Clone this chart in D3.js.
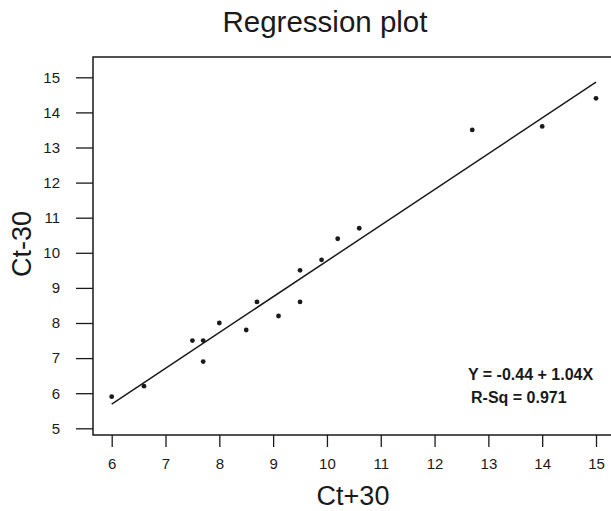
<!DOCTYPE html>
<html>
<head>
<meta charset="utf-8">
<script src="https://cdn.jsdelivr.net/npm/d3@7"></script>
<style>
  body { margin: 0; background: #fff; }
  svg text { font-family: Arial, "Liberation Sans", sans-serif; fill: #1a1a1a; }
</style>
</head>
<body>
<div id="chart"></div>
<script>
// data
var ctPlus = [6.0, 6.6, 7.5, 7.7, 7.7, 8.0, 8.5, 8.7, 9.1, 9.5, 9.5, 9.9, 10.2, 10.6, 12.7, 14.0, 15.0];
var ctMinus = [5.9, 6.2, 7.5, 7.5, 6.9, 8.0, 7.8, 8.6, 8.2, 8.6, 9.5, 9.8, 10.4, 10.7, 13.5, 13.6, 14.4];

// fitted line as drawn (end points)
var fitX = [6, 15];
var fitY = [5.69, 14.86];

var xTicks = [6, 7, 8, 9, 10, 11, 12, 13, 14, 15];
var yTicks = [5, 6, 7, 8, 9, 10, 11, 12, 13, 14, 15];
var annot = ["Y = -0.44 + 1.04X", "R-Sq = 0.971"];

var W = 611, H = 511;
var frame = { left: 93, right: 612, top: 57, bottom: 435 };
var ink = "#1a1a1a";

var svg = d3.select("#chart").append("svg")
    .attr("width", W)
    .attr("height", H);

var x = d3.scaleLinear().domain([6, 15]).range([111.7, 596]);
var y = d3.scaleLinear().domain([5, 15]).range([428.3, 77.3]);

// title
svg.append("text")
    .attr("x", 325).attr("y", 32)
    .attr("text-anchor", "middle")
    .style("font-size", "29.5px")
    .text("Regression plot");

// frame
svg.append("rect")
    .attr("x", frame.left).attr("y", frame.top)
    .attr("width", frame.right - frame.left)
    .attr("height", frame.bottom - frame.top)
    .attr("fill", "none")
    .attr("stroke", ink)
    .attr("stroke-width", 1.5);

// y axis
var gy = svg.append("g")
    .attr("transform", "translate(" + frame.left + ",0)")
    .call(d3.axisLeft(y).tickValues(yTicks).tickSize(17).tickPadding(16).tickFormat(d3.format("d")));
gy.select(".domain").remove();
gy.selectAll(".tick line").attr("stroke", ink).attr("stroke-width", 1.3);
gy.selectAll(".tick text").style("font-size", "15px").attr("fill", ink);

// x axis
var gx = svg.append("g")
    .attr("transform", "translate(0," + frame.bottom + ")")
    .call(d3.axisBottom(x).tickValues(xTicks).tickSize(12).tickFormat(d3.format("d")));
gx.select(".domain").remove();
gx.selectAll(".tick line").attr("stroke", ink).attr("stroke-width", 1.3);
gx.selectAll(".tick text").style("font-size", "15px").attr("fill", ink)
    .attr("y", 33.5).attr("dy", 0);

// axis titles
svg.append("text")
    .attr("x", 353).attr("y", 505)
    .attr("text-anchor", "middle")
    .style("font-size", "27px")
    .text("Ct+30");

svg.append("text")
    .attr("transform", "translate(31,244) rotate(-90)")
    .attr("text-anchor", "middle")
    .style("font-size", "27px")
    .text("Ct-30");

// regression line
svg.append("line")
    .attr("x1", x(fitX[0])).attr("y1", y(fitY[0]))
    .attr("x2", x(fitX[1])).attr("y2", y(fitY[1]))
    .attr("stroke", ink)
    .attr("stroke-width", 1.5);

// points
svg.selectAll("circle.pt")
    .data(ctPlus)
    .enter()
    .append("circle")
    .attr("class", "pt")
    .attr("cx", function (d) { return x(d); })
    .attr("cy", function (d, i) { return y(ctMinus[i]); })
    .attr("r", 2.4)
    .attr("fill", ink);

// equation text
svg.append("text")
    .attr("x", 468).attr("y", 380)
    .style("font-size", "16px")
    .style("font-weight", "bold")
    .text(annot[0]);
svg.append("text")
    .attr("x", 471).attr("y", 403)
    .style("font-size", "16px")
    .style("font-weight", "bold")
    .text(annot[1]);
</script>
</body>
</html>
